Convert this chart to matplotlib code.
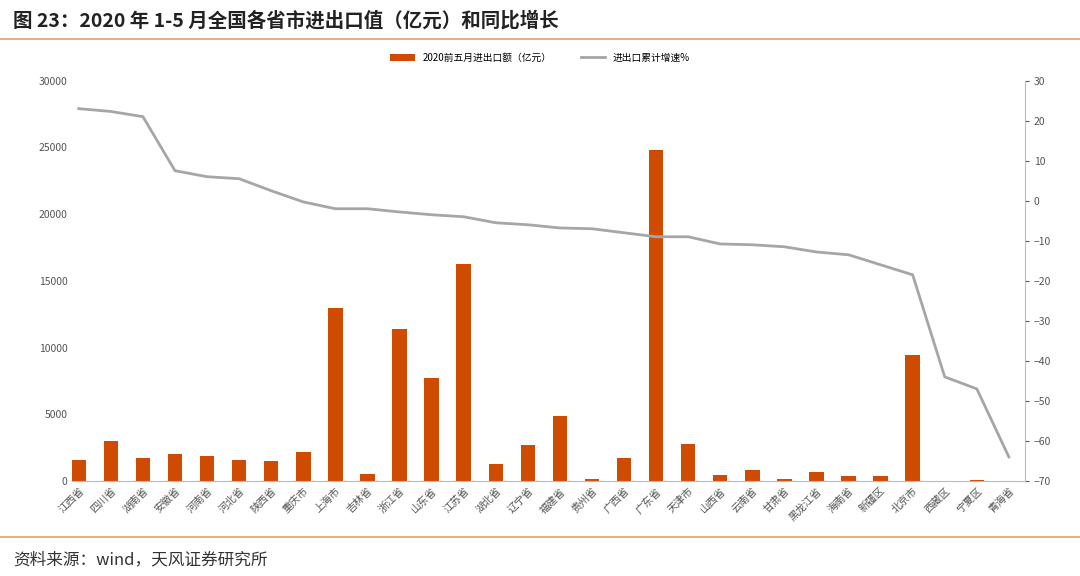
import matplotlib
matplotlib.use("Agg")
import matplotlib.pyplot as plt
from matplotlib.lines import Line2D

plt.rcParams['font.family'] = ['Noto Sans CJK SC', 'DejaVu Sans']

provinces = ["江西省","四川省","湖南省","安徽省","河南省","河北省","陕西省","重庆市","上海市","吉林省",
             "浙江省","山东省","江苏省","湖北省","辽宁省","福建省","贵州省","广西省","广东省","天津市",
             "山西省","云南省","甘肃省","黑龙江省","海南省","新疆区","北京市","西藏区","宁夏区","青海省"]
trade = [1600,3000,1700,2000,1850,1550,1500,2200,12950,500,
         11400,7700,16250,1300,2700,4850,150,1750,24800,2750,
         450,800,150,650,350,400,9450,20,60,30]
growth = [23,22.3,21,7.5,6,5.5,2.5,-0.3,-2,-2,
          -2.8,-3.5,-4,-5.5,-6,-6.8,-7,-8,-9,-9,
          -10.8,-11,-11.5,-12.8,-13.5,-16,-18.5,-44,-47,-64]

fig = plt.figure(figsize=(10.8,5.76), dpi=100)
fig.text(0.012,0.965,"图 23：2020 年 1-5 月全国各省市进出口值（亿元）和同比增长", fontsize=14, fontweight='bold', va='center', color='#222222')
fig.add_artist(Line2D([0.0,1.0],[0.933,0.933], color='#E8A05A', lw=1.2))
fig.add_artist(Line2D([0.0,1.0],[0.068,0.068], color='#E8A05A', lw=1.2))
fig.text(0.012,0.028,"资料来源：wind，天风证券研究所", fontsize=12, va='center', color='#333333')

ax = fig.add_axes([0.067,0.165,0.882,0.695])
x = range(len(provinces))
b = ax.bar(x, trade, width=0.45, color='#D04A02', label='2020前五月进出口额（亿元）')
ax.set_ylim(0,30000)
ax.set_yticks(range(0,30001,5000))
ax.set_xlim(-0.2,len(provinces)-0.5)
ax.set_xticks(list(x))
ax.set_xticklabels(provinces, rotation=45, fontsize=7.5, ha='right', rotation_mode='anchor', color='#555555')
ax.tick_params(axis='y', labelsize=7.5, colors='#555555', length=0)
ax.tick_params(axis='x', length=0)
for s in ['top','right','left']:
    ax.spines[s].set_visible(False)
ax.spines['bottom'].set_color('#BBBBBB')

ax2 = ax.twinx()
l, = ax2.plot(x, growth, color='#A6A6A6', lw=2, label='进出口累计增速%')
ax2.set_ylim(-70,30)
ax2.set_yticks(range(-70,31,10))
ax2.tick_params(axis='y', labelsize=7.5, colors='#555555', length=3)
for s in ['top','left','bottom']:
    ax2.spines[s].set_visible(False)
ax2.spines['right'].set_color('#BBBBBB')

fig.legend(handles=[b,l], loc='center', bbox_to_anchor=(0.5,0.9), ncol=2, frameon=False, fontsize=7, handlelength=2.5, columnspacing=3)
fig.savefig("out.png", dpi=100)
